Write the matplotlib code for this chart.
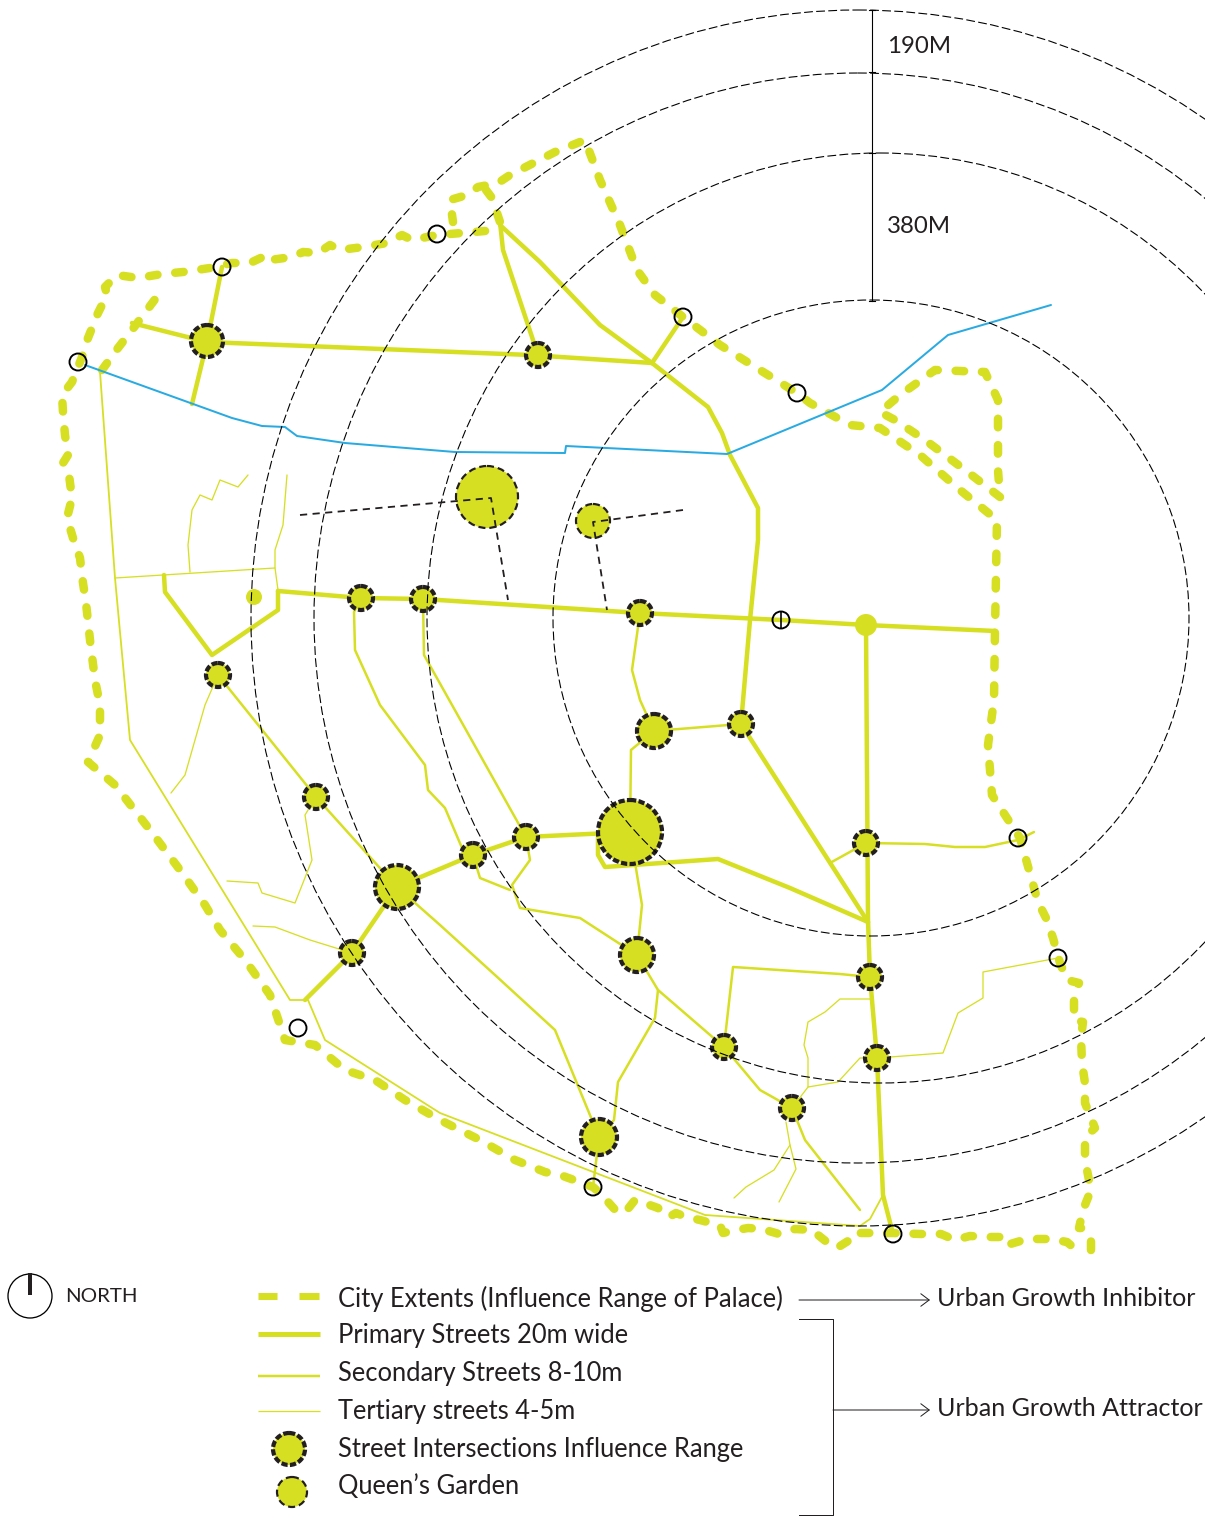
import matplotlib
matplotlib.use('Agg')
import matplotlib.pyplot as plt
from matplotlib.patches import Circle, Ellipse, Rectangle

W = 1215
H = 1517
GREEN = '#d7df23'
BLUE = '#29abe2'
DARK = '#231f20'

# influence rings: centre x, centre y, width radius, height radius
rings = [(871, 618, 318, 318), (880, 618, 453, 465), (858, 618, 544, 545), (858, 618, 607, 608)]

extent_outer = [(1091, 1250), (1091, 1240), (1083, 1228), (1079, 1228), (1083, 1210), (1091, 1190), (1085, 1160),
                (1085, 1137), (1095, 1128), (1085, 1103), (1085, 1083), (1082, 1063), (1081, 1038), (1083, 1022),
                (1074, 1020), (1074, 998), (1079, 983), (1067, 980), (1060, 963), (1053, 938), (1046, 918),
                (1038, 902), (1020, 838), (992, 795), (988, 745), (994, 700), (995, 630), (997, 520),
                (960, 490), (920, 455), (880, 428), (850, 425), (810, 403), (797, 393), (760, 370), (720, 345),
                (683, 317), (655, 295), (637, 270), (620, 225), (600, 180), (585, 140), (555, 152), (510, 175),
                (498, 183), (478, 187), (467, 195), (450, 200), (453, 222)]
extent_loop = [(1000, 497), (965, 470), (925, 440), (895, 420), (880, 412), (900, 395), (935, 370), (985, 372),
               (998, 400), (998, 470), (1000, 497)]
extent_west = [(486, 190), (492, 198), (500, 222), (485, 231), (462, 233), (437, 235), (412, 240), (402, 235),
               (387, 243), (363, 247), (340, 250), (330, 245), (318, 253), (303, 252), (292, 257), (270, 260),
               (267, 255), (250, 263), (232, 263), (210, 268), (183, 272), (162, 274), (138, 278), (117, 275),
               (105, 287), (107, 295), (98, 313), (88, 338), (82, 357), (72, 382), (62, 395), (63, 412),
               (65, 435), (68, 455), (63, 463), (69, 475), (72, 498), (67, 518), (73, 538), (80, 558),
               (83, 583), (86, 603), (90, 640), (95, 680), (100, 705), (100, 735), (88, 762), (115, 785),
               (150, 830), (180, 870), (205, 905), (220, 930), (245, 960), (270, 995), (285, 1040), (315, 1045),
               (345, 1070), (375, 1080), (405, 1100), (440, 1120), (480, 1140), (515, 1160), (545, 1172),
               (563, 1176), (574, 1180), (593, 1187), (602, 1195), (609, 1203), (618, 1213), (627, 1210),
               (635, 1200), (644, 1203), (658, 1208), (669, 1217), (676, 1213), (686, 1217), (700, 1220),
               (711, 1223), (720, 1225), (723, 1233), (737, 1230), (748, 1228), (762, 1229), (779, 1234),
               (795, 1229), (813, 1230), (818, 1235), (828, 1243), (837, 1248), (848, 1241), (853, 1233),
               (869, 1233), (893, 1233), (921, 1234), (941, 1234), (955, 1240), (970, 1236), (988, 1237),
               (1004, 1237), (1007, 1245), (1027, 1239), (1051, 1239), (1067, 1242), (1074, 1248)]
extent_inner = [(102, 370), (118, 348), (132, 330), (147, 310), (162, 290)]

primary = [
    [(132, 323), (207, 342), (530, 355), (652, 363)],
    [(222, 267), (207, 342), (192, 404)],
    [(500, 222), (503, 250), (538, 355)],
    [(500, 225), (540, 262), (600, 325), (652, 363), (708, 407), (722, 433), (730, 455), (758, 508), (758, 540),
     (750, 620), (741, 724)],
    [(683, 317), (652, 363)],
    [(278, 591), (361, 598), (423, 599), (640, 613), (781, 620), (866, 625), (995, 631)],
    [(278, 591), (278, 610), (212, 655), (165, 592), (164, 575)],
    [(866, 625), (868, 920), (870, 977), (877, 1058), (883, 1195), (893, 1234)],
    [(741, 724), (868, 922)],
    [(868, 922), (790, 888), (718, 859), (605, 867), (598, 855), (598, 833), (630, 832)],
    [(630, 832), (526, 837), (473, 855), (397, 887), (352, 953), (305, 1000)],
]
secondary = [
    [(640, 613), (632, 670), (640, 700), (654, 731)],
    [(654, 731), (741, 724)],
    [(654, 731), (631, 750), (630, 832)],
    [(361, 598), (354, 612), (355, 650), (380, 705), (425, 765), (428, 790), (445, 808), (465, 855)],
    [(423, 599), (424, 655), (526, 837)],
    [(218, 675), (316, 797), (397, 887)],
    [(397, 887), (440, 925), (495, 975), (555, 1030), (599, 1137)],
    [(473, 855), (480, 878), (510, 890)],
    [(526, 837), (530, 860), (512, 885), (520, 908), (580, 918), (637, 955)],
    [(630, 832), (642, 905), (637, 955)],
    [(637, 955), (658, 990), (724, 1047), (760, 1090), (792, 1108)],
    [(658, 990), (655, 1018), (618, 1082), (614, 1120), (599, 1137)],
    [(599, 1137), (593, 1187)],
    [(724, 1047), (733, 967), (840, 974), (870, 977)],
    [(792, 1108), (805, 1140), (860, 1210)],
    [(866, 843), (925, 844), (955, 847), (985, 847), (1018, 840), (1034, 832)],
    [(866, 843), (830, 863)],
]
secondary_thin = [
    [(100, 372), (115, 578), (130, 740), (290, 1000), (308, 1000), (325, 1040), (440, 1113), (705, 1215), (860, 1226),
     (870, 1219), (883, 1195)],
]
tertiary = [
    [(115, 578), (275, 568)],
    [(190, 572), (188, 545), (192, 510), (200, 495), (212, 500), (220, 480), (238, 487), (248, 475)],
    [(287, 475), (283, 525), (275, 550), (275, 568), (278, 590)],
    [(171, 793), (185, 775), (205, 705), (218, 675)],
    [(316, 797), (305, 815), (312, 860), (295, 903), (262, 893), (258, 883), (227, 881)],
    [(253, 926), (275, 927), (310, 940), (352, 953)],
    [(877, 1058), (943, 1053), (958, 1013), (983, 998), (983, 972), (1058, 958)],
    [(870, 999), (840, 999), (825, 1012), (808, 1022), (804, 1045), (808, 1058), (808, 1087), (838, 1082), (860, 1058),
     (877, 1058)],
    [(808, 1087), (792, 1108)],
    [(786, 1122), (790, 1145), (796, 1169), (779, 1202)],
    [(790, 1145), (774, 1170), (746, 1187), (734, 1198)],
]
river = [(85, 365), (232, 418), (262, 426), (285, 427), (297, 436), (345, 443), (455, 452), (565, 453), (566, 446),
         (727, 454), (882, 390), (948, 335), (1051, 305)]

intersections = [(207, 341, 16), (538, 355, 12), (361, 598, 12), (423, 599, 12), (640, 613, 12), (218, 675, 12),
                 (654, 731, 17), (741, 724, 12), (316, 797, 12), (526, 837, 12), (473, 855, 12), (630, 832, 32),
                 (397, 887, 22), (866, 843, 12), (352, 953, 12), (637, 955, 17), (870, 977, 12), (724, 1047, 12),
                 (877, 1058, 12), (792, 1108, 12), (599, 1137, 18)]
plain_nodes = [(866, 625, 11), (254, 597, 8)]
gardens = [(487, 497, 31), (593, 521, 17)]
gates = [(222, 267), (437, 234), (683, 317), (797, 393), (78, 362), (298, 1028), (593, 1187), (893, 1234),
         (1018, 838), (1058, 958), (781, 620)]
garden_axes = [[(300, 515), (491, 498), (508, 600)], [(683, 510), (593, 522), (607, 610)]]

legend_labels = ['City Extents (Influence Range of Palace)', 'Primary Streets 20m wide', 'Secondary Streets 8-10m',
                 'Tertiary streets 4-5m', 'Street Intersections Influence Range', "Queen\u2019s Garden"]
legend_y = [1299, 1336, 1374, 1412, 1449, 1487]


def px(n):
    # widths and font sizes are thought of in image pixels
    return n * 0.72


def path(ax, pts, color=GREEN, width=2.5, z=2, **kw):
    ax.plot([p[0] for p in pts], [p[1] for p in pts], color=color, lw=px(width), zorder=z,
            solid_capstyle=kw.pop('cap', 'round'), solid_joinstyle='round', **kw)


def extent(ax, pts):
    ax.plot([p[0] for p in pts], [p[1] for p in pts], color=GREEN, lw=px(8.5), zorder=3,
            linestyle=(0, (1.0, 2.1)), dash_capstyle='round', dash_joinstyle='round')


def node(ax, x, y, r):
    ax.add_patch(Circle((x, y), r, fc=GREEN, ec='none', zorder=5))
    ax.add_patch(Circle((x, y), r, fc='none', ec=DARK, lw=px(4.2), linestyle=(0, (1.5, 0.55)), zorder=6))


def garden(ax, x, y, r):
    ax.add_patch(Circle((x, y), r, fc=GREEN, ec='none', zorder=5))
    ax.add_patch(Circle((x, y), r, fc='none', ec=DARK, lw=px(2.2), linestyle=(0, (3.2, 1.8)), zorder=6))


fig = plt.figure(figsize=(W / 100, H / 100), dpi=100)
ax = fig.add_axes([0, 0, 1, 1])
ax.set_xlim(0, W)
ax.set_ylim(H, 0)
ax.axis('off')
plt.rcParams['font.family'] = ['Lato', 'DejaVu Sans']

for st in tertiary:
    path(ax, st, width=1.3)
for st in secondary_thin:
    path(ax, st, width=1.8)
for st in secondary:
    path(ax, st, width=2.5)
for st in primary:
    path(ax, st, width=4.5)
path(ax, river, color=BLUE, width=2, z=4)

for pts in [extent_outer, extent_loop, extent_west, extent_inner]:
    extent(ax, pts)

for x, y, r in intersections:
    node(ax, x, y, r)
for x, y, r in plain_nodes:
    ax.add_patch(Circle((x, y), r, fc=GREEN, ec='none', zorder=5))
for x, y, r in gardens:
    garden(ax, x, y, r)

clip = Rectangle((0, 0), 1205, H, transform=ax.transData)
for cx, cy, a, b in rings:
    e = Ellipse((cx, cy), 2 * a, 2 * b, fc='none', ec='black', lw=px(1.1), linestyle=(0, (8, 3)), zorder=7)
    ax.add_patch(e)
    e.set_clip_path(clip)

for pts in garden_axes:
    ax.plot([p[0] for p in pts], [p[1] for p in pts], color=DARK, lw=px(1.8), linestyle=(0, (4, 3)), zorder=7)

for x, y in gates:
    ax.add_patch(Circle((x, y), 8.5, fc='none', ec='black', lw=px(1.9), zorder=8))
ax.plot([781, 781], [612, 628], color='black', lw=px(1.6), zorder=8)

# dimension line
ax.plot([872, 872], [10, 301], color='black', lw=px(1.1), zorder=7)
for y in [10, 72, 153, 301]:
    ax.plot([869, 875], [y, y], color='black', lw=px(1.1), zorder=7)
ax.text(887, 46, '190M', fontsize=px(24), color=DARK, va='center', ha='left')
ax.text(887, 226, '380M', fontsize=px(24), color=DARK, va='center', ha='left')

# north sign
ax.add_patch(Circle((30, 1296), 22, fc='none', ec='black', lw=px(1.3)))
ax.plot([30, 30], [1273, 1295], color=DARK, lw=px(4), solid_capstyle='butt')
ax.text(65, 1297, 'NORTH', fontsize=px(20.5), color=DARK, va='center', ha='left')

# legend
ax.plot([258, 277], [1296, 1296], color=GREEN, lw=px(7), solid_capstyle='butt')
ax.plot([299, 319], [1296, 1296], color=GREEN, lw=px(7), solid_capstyle='butt')
ax.plot([258, 320], [1334, 1334], color=GREEN, lw=px(5), solid_capstyle='butt')
ax.plot([258, 320], [1376, 1376], color=GREEN, lw=px(2.5), solid_capstyle='butt')
ax.plot([258, 320], [1411, 1411], color=GREEN, lw=px(1.3), solid_capstyle='butt')
node(ax, 289, 1449, 16)
garden(ax, 292, 1492, 15)
for label, y in zip(legend_labels, legend_y):
    ax.text(338, y, label, fontsize=px(25.5), color=DARK, va='center', ha='left')

ax.plot([799, 833, 833, 799], [1319, 1319, 1515, 1515], color=DARK, lw=px(1))
for x0, y, label in [(799, 1300, 'Urban Growth Inhibitor'), (833, 1410, 'Urban Growth Attractor')]:
    ax.annotate('', xy=(930, y), xytext=(x0, y),
                arrowprops=dict(arrowstyle='->,head_length=0.6,head_width=0.45', color=DARK, lw=px(1),
                                shrinkA=0, shrinkB=0))
    ax.text(937, y - 1, label, fontsize=px(25.1), color=DARK, va='center', ha='left')

fig.savefig('out.png', dpi=100)
